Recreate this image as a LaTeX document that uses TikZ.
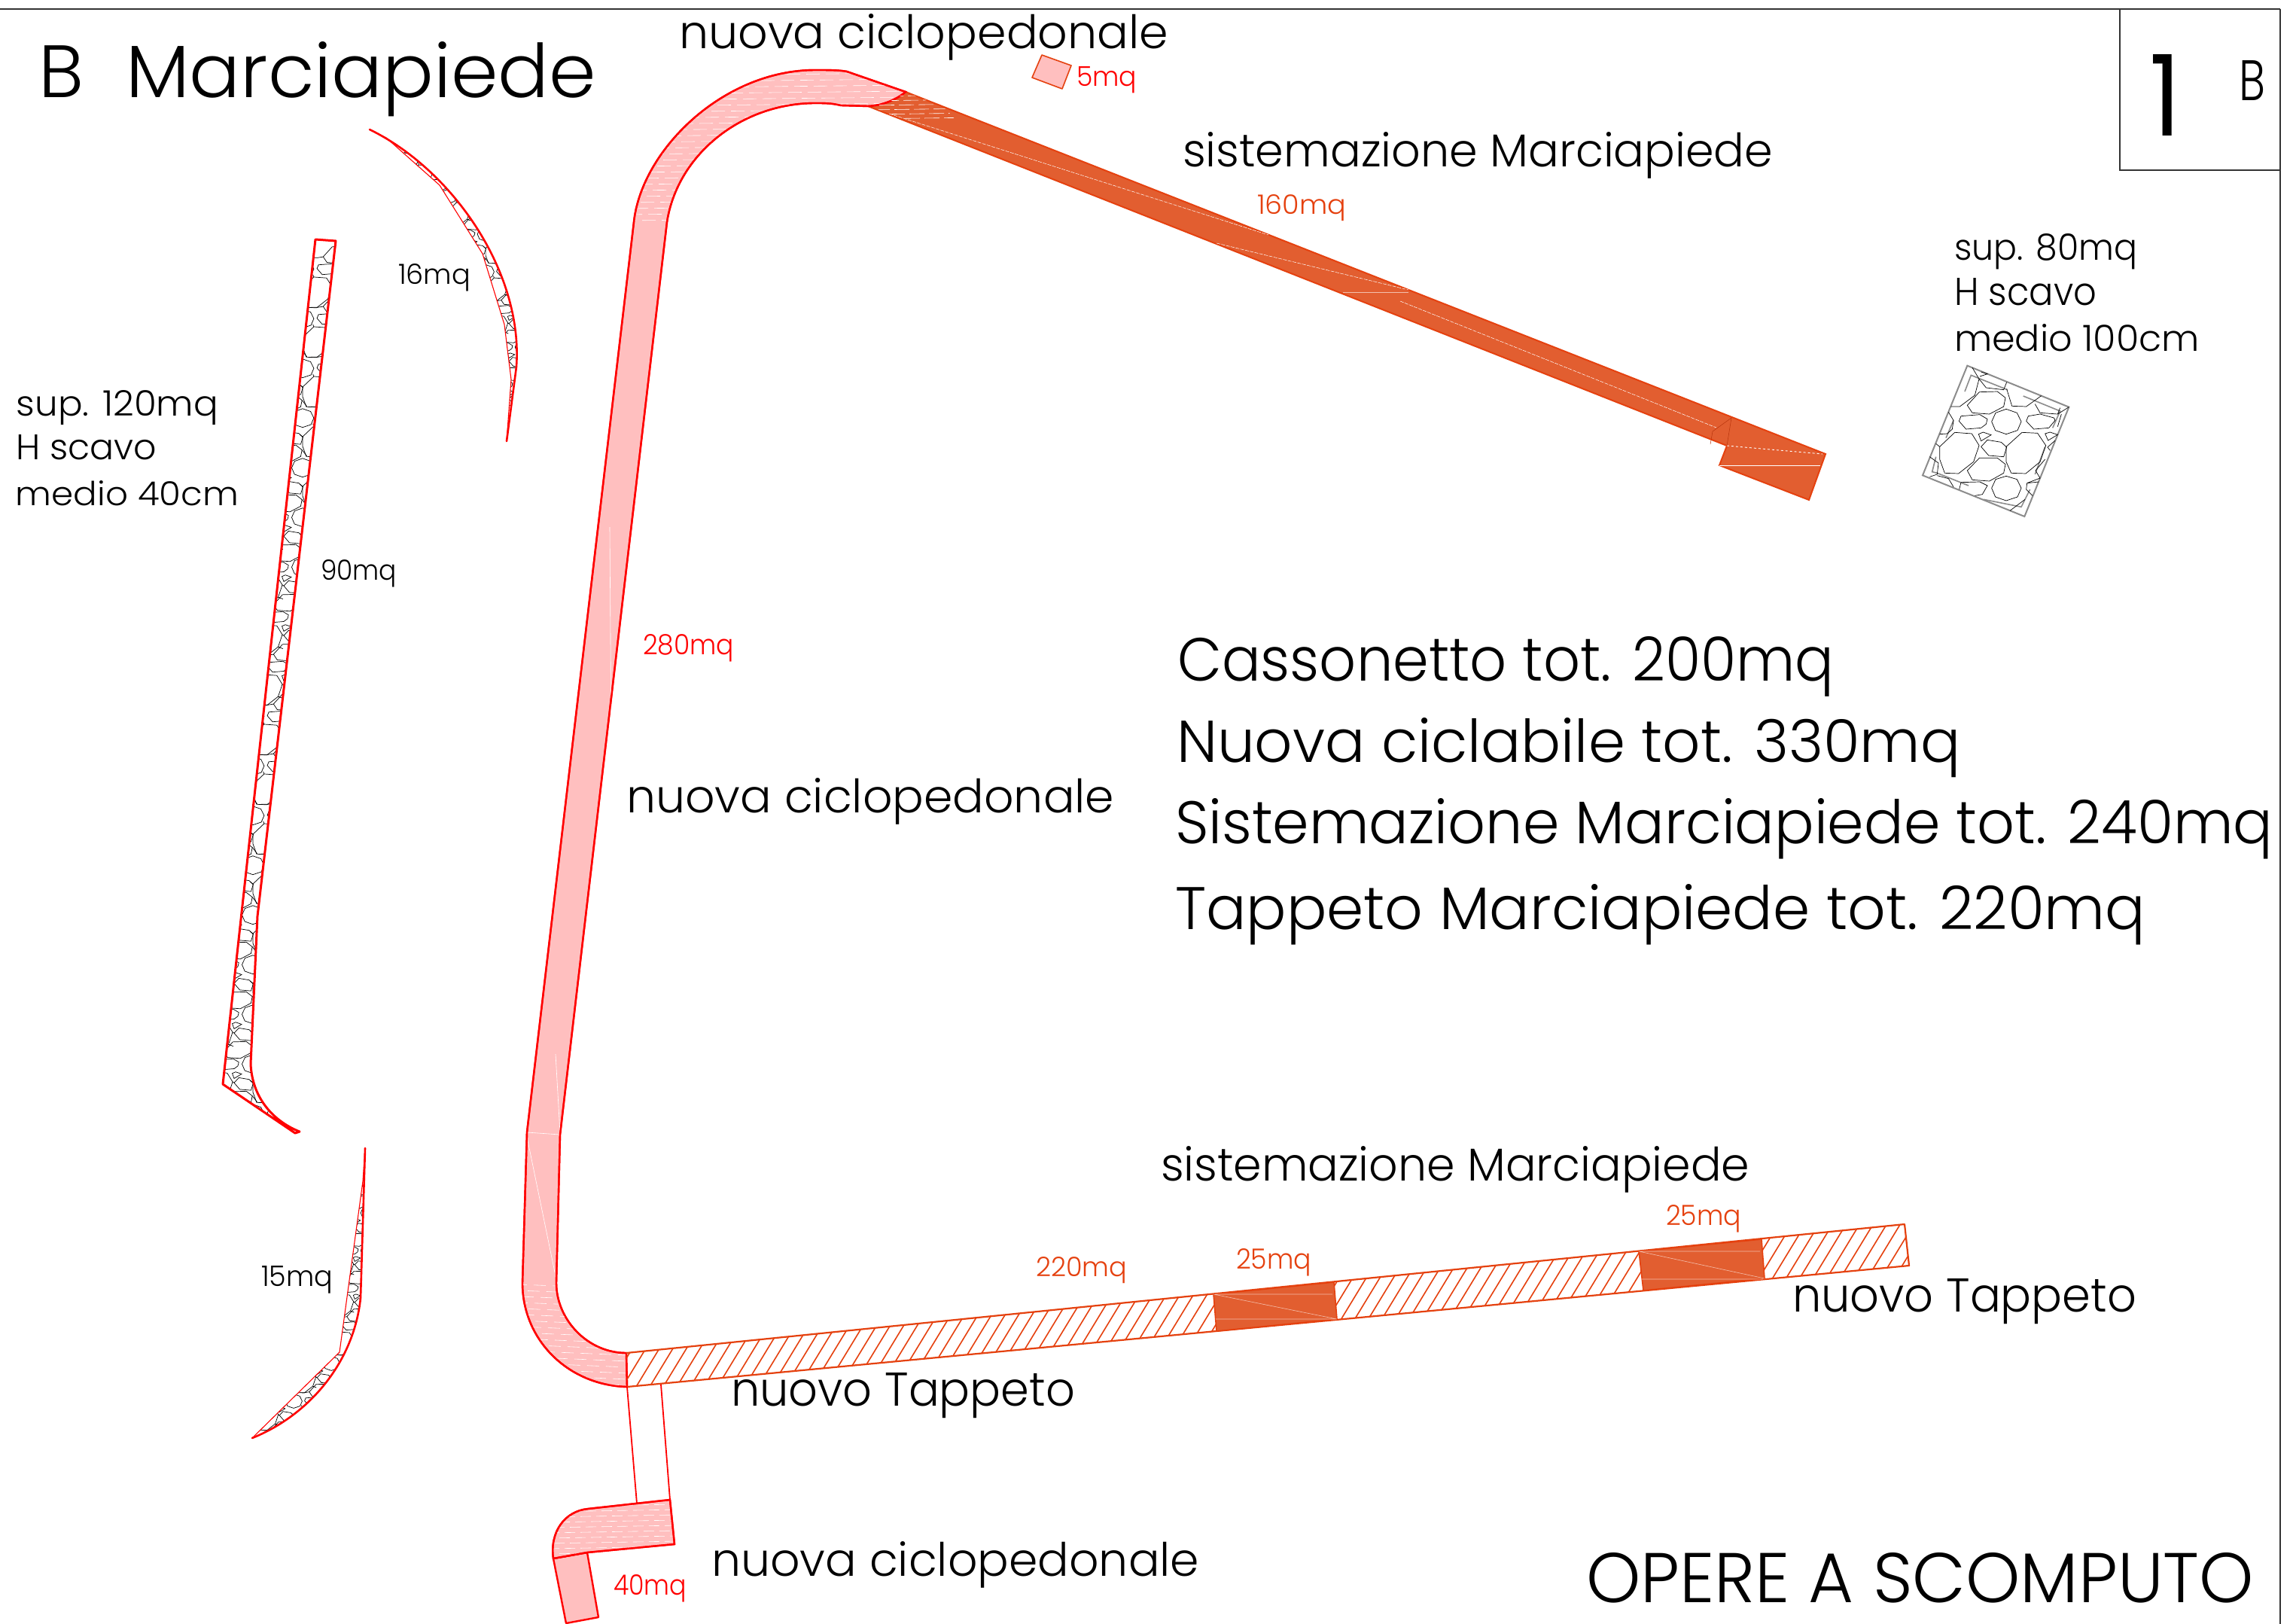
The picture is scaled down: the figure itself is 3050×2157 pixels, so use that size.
\documentclass[tikz,border=0pt]{standalone}
\usepackage{fontspec}
\usepackage{graphicx}
\setmainfont{Poppins}[UprightFont=* Light]
\newfontfamily\heavyfont{Poppins}
\definecolor{pinkfill}{HTML}{FFBFBF}
\definecolor{redline}{HTML}{FF0000}
\definecolor{orangefill}{HTML}{E25E30}
\definecolor{orangeline}{HTML}{E5410F}
\definecolor{frameline}{HTML}{333333}
\tikzset{
  pinkshape/.style={fill=pinkfill,draw=redline,line width=2.4pt,line join=round},
  orangeshape/.style={fill=orangefill,draw=orangeline,line width=2pt,line join=miter},
  redthick/.style={draw=redline,line width=3pt,line join=round,line cap=round},
  redthin/.style={draw=redline,line width=1.1pt},
  hatchline/.style={draw=orangeline,line width=1.6pt},
  whitefine/.style={draw=white,line width=.6pt},
  stone/.style={draw=black,line width=.7pt},
  grayframe/.style={draw=gray!90,line width=1.6pt},
  frameln/.style={draw=frameline,line width=1.2pt},
  lbl/.style={inner sep=0pt,outer sep=0pt,anchor=base west},
}
\newcommand{\fit}[3]{\resizebox{#1pt}{#2pt}{#3}}
\newcommand{\rubbletile}{%
  \draw[stone] (190,205)--(238,152)--(310,150)--(342,175)--(335,210)--(278,240)--(210,235)--cycle;
  \draw[stone] (157,268)--(165,248)--(240,242)--(270,260)--(265,280)--(245,295)--(185,300)--cycle;
  \draw[stone] (287,270)--(303,235)--(345,220)--(388,235)--(405,270)--(390,305)--(345,320)--(302,305)--cycle;
  \draw[stone] (80,370)--(140,313)--(208,318)--(237,365)--(215,430)--(155,477)--(100,475)--(80,420)--cycle;
  \draw[stone] (245,370)--(270,343)--(325,352)--(347,372)--(335,410)--(275,405)--cycle;
  \draw[stone] (235,320)--(253,312)--(285,323)--(245,347)--cycle;
  \draw[stone] (190,205)--(160,210)--(125,210) (80,370)--(65,358) (237,365)--(245,370) (215,430)--(240,440) (342,175)--(368,208) (140,313)--(135,300);
}
\newcommand{\rubblegrid}[5]{% x0,y0,period,nx,ny
  \foreach \gi in {0,...,#4}{\foreach \gj in {0,...,#5}{%
    \begin{scope}[shift={(#1+\gi*#3,#2+\gj*#3)},scale=#3/265]\rubbletile\end{scope}}}%
}
\begin{document}
\begin{tikzpicture}[x=1pt,y=-1pt]
\useasboundingbox (0,0) rectangle (3050,2157);
\fill[white] (0,0) rectangle (3050,2157);
% frame
\draw[frameln] (0,12) -- (3029,12) (2816,12) -- (2816,226) -- (3029,226) (3029,12) -- (3029,2157);
% ---- left rubble strip
\begin{scope}
  \clip (419,318) -- (296,1440) -- (392,1505) -- (398,1503) .. controls (365,1490) and (335,1460) .. (333,1413) -- (342,1217) -- (446,320) -- cycle;
  \rubblegrid{250}{290}{66}{3}{18}
\end{scope}
\draw[redthick] (419,318) -- (296,1440) -- (392,1505) -- (398,1503) .. controls (365,1490) and (335,1460) .. (333,1413) -- (342,1217) -- (446,320) -- cycle;
% ---- upper arc strip
\begin{scope}
  \clip (491,172) .. controls (600,225) and (695,360) .. (686,487) -- (673,586) -- (679,504) -- (670,431) -- (641,337) -- (584,246) -- (513,183) -- cycle;
  \rubblegrid{480}{160}{50}{4}{8}
\end{scope}
\draw[redthin] (491,172) -- (513,183) -- (584,246) -- (641,337) -- (670,431) -- (679,504) -- (673,586);
\draw[redthick,line width=2.6pt] (491,172) .. controls (600,225) and (695,360) .. (686,487) -- (673,586);
% ---- lower arc strip
\begin{scope}
  \clip (485,1525) -- (479,1724) .. controls (470,1810) and (410,1880) .. (335,1910) -- (451,1796) -- (482,1569) -- cycle;
  \rubblegrid{325}{1510}{50}{3}{8}
\end{scope}
\draw[redthin] (485,1525) -- (482,1569) -- (451,1796) -- (335,1910);
\draw[redthick,line width=2.6pt] (485,1525) -- (479,1724) .. controls (470,1810) and (410,1880) .. (335,1910);
% ---- orange upper band
\draw[orangeshape] (1203,122) -- (2425,603) -- (2403,664) -- (2284,618) -- (2294,592) -- (1153,141) -- cycle;
\draw[whitefine,line width=.5pt,dash pattern=on 5pt off 1.5pt] (1181,151) -- (1685,312) (1616,323) -- (1871,385) (1860,400) -- (2280,568);
\draw[whitefine,line width=.5pt,opacity=.6] (1784,388) -- (1871,388);
\draw[whitefine,dashed,line width=.9pt] (2294,592) -- (2421,603);
\draw[whitefine,line width=.9pt] (2284,618) -- (2418,618);
\draw[orangeline!80!black,line width=.5pt] (2275,573) -- (2300,555) -- (2294,592) (2275,573) -- (2272,590);
% ---- main pink path
\draw[pinkshape] (833,1842) .. controls (755,1840) and (694,1780) .. (694,1704) -- (700,1504) -- (842,295) .. controls (852,200) and (960,93) .. (1083,93) .. controls (1100,93) and (1115,93) .. (1125,95) -- (1203,122) .. controls (1190,133) and (1172,140) .. (1153,141) -- (1117,140) .. controls (1105,137) and (1095,137) .. (1083,137) .. controls (985,137) and (900,205) .. (886,295) -- (744,1507) -- (739,1704) .. controls (739,1752) and (780,1797) .. (832,1797) -- cycle;
\begin{scope}
  \clip (833,1842) .. controls (755,1840) and (694,1780) .. (694,1704) -- (739,1704) .. controls (739,1752) and (780,1797) .. (832,1797) -- cycle;
  \foreach \yy in {1706,1714,...,1842} {\draw[whitefine,dash pattern=on 16pt off 9pt,dash phase=\yy] (690,\yy) -- (835,\yy+6);}
\end{scope}
\begin{scope}
  \clip (842,295) .. controls (852,200) and (960,93) .. (1083,93) -- (1125,95) -- (1203,122) .. controls (1190,133) and (1172,140) .. (1153,141) -- (1083,137) .. controls (985,137) and (900,205) .. (886,295) -- cycle;
  \foreach \yy in {97,105,...,320} {\draw[whitefine,dash pattern=on 18pt off 8pt,dash phase=\yy] (830,\yy+4) -- (1210,\yy);}
\end{scope}
\draw[whitefine] (700,1504) -- (744,1507) (738,1400) -- (744,1505) (700,1510) -- (737,1690) (810,700) -- (812,1000);
\draw[redline,line width=2.4pt] (833,1842) .. controls (755,1840) and (694,1780) .. (694,1704) -- (700,1504) -- (842,295) .. controls (852,200) and (960,93) .. (1083,93) .. controls (1100,93) and (1115,93) .. (1125,95) -- (1203,122) .. controls (1190,133) and (1172,140) .. (1153,141) -- (1117,140) .. controls (1105,137) and (1095,137) .. (1083,137) .. controls (985,137) and (900,205) .. (886,295) -- (744,1507) -- (739,1704) .. controls (739,1752) and (780,1797) .. (832,1797) -- cycle;
% hatch on orange start
\begin{scope}
  \clip (1203,122) -- (1253,142) -- (1300,190) -- (1153,141) .. controls (1172,140) and (1190,133) .. (1203,122) -- cycle;
  \foreach \yy in {126,132,...,160} {\draw[whitefine,dash pattern=on 20pt off 6pt,dash phase=\yy] (1150,\yy+2) -- (1300,\yy);}
\end{scope}
% small rectangle
\draw[pinkshape,line width=1.6pt,draw=orangeline] (1384,73) -- (1423,87) -- (1411,118) -- (1371,103) -- cycle;
% ---- hatched band
\begin{scope}
  \clip (832,1797) -- (2530,1626) -- (2536,1681) -- (833,1842) -- cycle;
  \foreach \hx in {690,708,...,2560} {\draw[hatchline] (\hx,1860) -- (\hx+152,1610);}
\end{scope}
\draw[hatchline,line width=2.2pt,line join=round] (832,1797) -- (2530,1626) -- (2536,1681) -- (833,1842);
\draw[orangeshape,line width=1.6pt] (1612,1719) -- (1772,1703) -- (1776,1752) -- (1616,1768) -- cycle;
\draw[orangeshape,line width=1.6pt] (2177,1662) -- (2340,1646) -- (2344,1698) -- (2183,1714) -- cycle;
\draw[white!60!orangefill,line width=.6pt] (1612,1719) -- (1776,1752) (1614,1719) -- (1770,1719) (1615,1752) -- (1775,1752)
  (2177,1662) -- (2344,1698) (2179,1662) -- (2338,1662) (2181,1699) -- (2342,1699);
% ---- bottom piece
\draw[redthin,line width=1.8pt] (833,1842) -- (846,1997) (878,1839) -- (890,1992);
\draw[pinkshape] (735,2070) -- (752,2156) -- (795,2148) -- (780,2062) -- cycle;
\draw[pinkshape] (890,1992) -- (896,2051) -- (780,2062) -- (735,2070) .. controls (730,2035) and (750,2007) .. (781,2004) -- cycle;
\begin{scope}
  \clip (890,1992) -- (896,2051) -- (780,2062) -- (735,2070) .. controls (730,2035) and (750,2007) .. (781,2004) -- cycle;
  \foreach \yy in {1998,2005,...,2072} {\draw[whitefine,dash pattern=on 14pt off 7pt,dash phase=\yy] (725,\yy+3) -- (900,\yy);}
\end{scope}
\draw[redline,line width=2.4pt] (890,1992) -- (896,2051) -- (780,2062) -- (735,2070) .. controls (730,2035) and (750,2007) .. (781,2004) -- cycle;
% ---- rubble sample
\begin{scope}[shift={(2550,470)},scale=1/3]
  \draw[grayframe,line width=2pt] (190,47) -- (595,212) -- (418,648) -- (12,484) -- cycle;
  \draw[grayframe] (180,150) -- (205,85) -- (350,143) (413,168) -- (560,228) -- (530,295) (135,265) -- (105,335) (500,370) -- (460,480) (195,525) -- (70,475) -- (50,470) -- (65,410) (440,540) -- (405,610) -- (255,580);
  \draw[stone] (190,205)--(238,152)--(310,150)--(342,175)--(335,210)--(278,240)--(210,235)--cycle;
  \draw[stone] (157,268)--(165,248)--(240,242)--(270,260)--(265,280)--(245,295)--(185,300)--cycle;
  \draw[stone] (287,270)--(303,235)--(345,220)--(388,235)--(405,270)--(390,305)--(345,320)--(302,305)--cycle;
  \draw[stone] (425,268)--(433,248)--(480,240)--(535,255)--(540,265)--(515,295)--(455,300)--cycle;
  \draw[stone] (80,370)--(140,313)--(208,318)--(237,365)--(215,430)--(155,477)--(100,475)--(80,420)--cycle;
  \draw[stone] (345,370)--(408,313)--(470,316)--(503,365)--(480,430)--(423,477)--(365,475)--(345,430)--cycle;
  \draw[stone] (245,370)--(270,343)--(325,352)--(347,372)--(335,410)--(275,405)--cycle;
  \draw[stone] (190,465)--(238,415)--(310,415)--(342,440)--(335,475)--(278,507)--(210,502)--cycle;
  \draw[stone] (287,535)--(303,500)--(345,487)--(388,500)--(405,535)--(390,570)--(345,585)--(302,570)--cycle;
  \draw[stone] (235,320)--(253,312)--(285,323)--(245,347)--cycle;
  \draw[stone] (500,318)--(520,312)--(550,322)--(512,345)--cycle;
  \draw[stone] (158,540)--(165,512)--(240,510)--(270,525)--(250,560)--(220,565);
  \draw[stone] (210,55)--(237,100)--(265,135)--(335,143)--(347,113) (237,100)--(220,165)--(160,210)--(125,210) (115,232)--(135,265)--(130,300)--(110,318)--(80,320) (80,370)--(65,358) (40,410)--(75,435)--(70,480)--(40,490) (70,485)--(115,497)--(135,530) (347,140)--(368,208)--(425,210)--(485,167) (460,200)--(480,235)--(550,240)--(595,212) (550,240)--(560,215) (565,240)--(550,290) (540,345)--(510,372)--(520,385) (500,420)--(462,465)--(480,495)--(428,515)--(425,540)--(450,565) (475,510)--(428,515) (420,580)--(360,625) (240,90)--(270,80)--(245,72);
\end{scope}
% ---- labels
\node[lbl] (title) at (52,129) {\fit{740}{74}{B\hspace{.55em}Marciapiede}};
\node[lbl] (topc) at (902,64) {\fit{650}{46}{nuova ciclopedonale}};
\node[lbl,text=redline] (fivemq) at (1430,114) {\fit{80}{26}{5mq}};
\node[lbl] (topm) at (1571,221) {\fit{784}{46}{sistemazione Marciapiede}};
\node[lbl,text=orangeline] (q160) at (1670,284) {\fit{118}{26}{160mq}};
\node[lbl] (one) at (2855,180) {\fit{42}{108}{\heavyfont 1}};
\node[lbl] (bb) at (2974,133) {\fit{35}{53}{B}};
\node[lbl] (s80) at (2596,345) {\fit{243}{35}{sup. 80mq}};
\node[lbl] (h80) at (2596,405) {\fit{189}{36}{H scavo}};
\node[lbl] (m80) at (2596,466) {\fit{326}{36}{medio 100cm}};
\node[lbl] (q16) at (529,377) {\fit{96}{27}{16mq}};
\node[lbl] (s120) at (22,552) {\fit{268}{34}{sup. 120mq}};
\node[lbl] (h120) at (21,610) {\fit{187}{33}{H scavo}};
\node[lbl] (m120) at (21,671) {\fit{296}{33}{medio 40cm}};
\node[lbl] (q90) at (426,770) {\fit{101}{27}{90mq}};
\node[lbl,text=redline] (q280) at (854,869) {\fit{121}{27}{280mq}};
\node[lbl] (midc) at (832,1079) {\fit{648}{46}{nuova ciclopedonale}};
\node[lbl] (sum1) at (1564,904) {\fit{872}{59}{Cassonetto tot. 200mq}};
\node[lbl] (sum2) at (1563,1012) {\fit{1041}{59}{Nuova ciclabile tot. 330mq}};
\node[lbl] (sum3) at (1561,1120) {\fit{1458}{60}{Sistemazione Marciapiede tot. 240mq}};
\node[lbl] (sum4) at (1561,1234) {\fit{1289}{60}{Tappeto Marciapiede tot. 220mq}};
\node[lbl] (lowm) at (1542,1568) {\fit{782}{46}{sistemazione Marciapiede}};
\node[lbl,text=orangeline] (q25b) at (2213,1627) {\fit{100}{27}{25mq}};
\node[lbl,text=orangeline] (q25a) at (1642,1685) {\fit{100}{27}{25mq}};
\node[lbl,text=orangeline] (q220) at (1376,1695) {\fit{121}{26}{220mq}};
\node[lbl] (tapr) at (2381,1742) {\fit{457}{44}{nuovo Tappeto}};
\node[lbl] (tapl) at (971,1867) {\fit{457}{44}{nuovo Tappeto}};
\node[lbl] (botc) at (945,2093) {\fit{648}{46}{nuova ciclopedonale}};
\node[lbl,text=redline] (q40) at (815,2118) {\fit{97}{27}{40mq}};
\node[lbl] (q15) at (347,1708) {\fit{95}{27}{15mq}};
\node[lbl] (opere) at (2107,2128) {\fit{887}{66}{OPERE A SCOMPUTO}};
\end{tikzpicture}
\end{document}
